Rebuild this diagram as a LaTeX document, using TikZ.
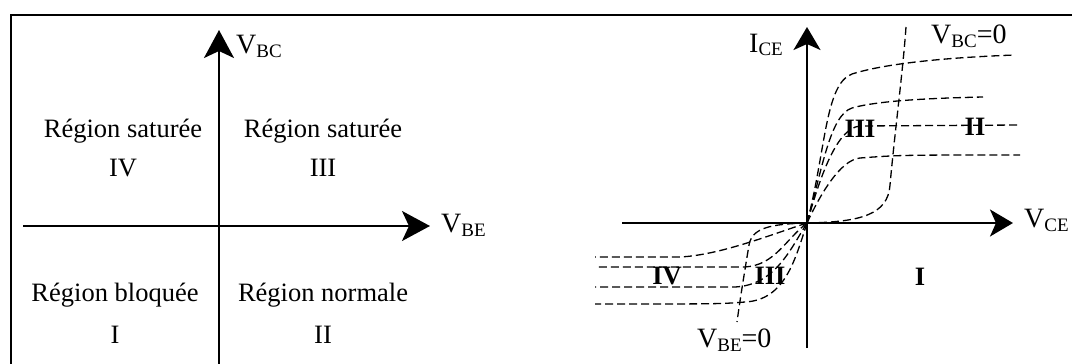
\documentclass[tikz,border=0pt]{standalone}
\usepackage{fontspec}
\setmainfont{Liberation Serif}
\usetikzlibrary{arrows.meta}
\newcommand{\txtsz}{\fontsize{26.5}{28}\selectfont}
\newcommand{\axlab}[2]{{\fontsize{28}{30}\selectfont #1}\raisebox{-4pt}{\fontsize{19}{20}\selectfont #2}}
\tikzset{
  frameline/.style={line width=1.6pt},
  axisL/.style={line width=2.2pt,-{Stealth[length=28pt,width=30pt,inset=7pt]}},
  axisR/.style={line width=2.2pt,-{Stealth[length=23pt,width=27pt,inset=6pt]}},
  curve/.style={line width=1.3pt,dash pattern=on 8pt off 4pt},
  regtext/.style={font=\txtsz,inner sep=0pt,align=center},
  roman/.style={font=\txtsz\bfseries,inner sep=0pt},
  axtext/.style={inner sep=0pt,anchor=base west},
}
\begin{document}
\begin{tikzpicture}[x=1pt,y=-1pt]
\useasboundingbox (0,0) rectangle (1072,364);
% frame
\coordinate (fb) at (11,364);
\coordinate (fc) at (11,15);
\coordinate (fr) at (1072,15);
\draw[frameline] (fb) -- (fc) -- (fr);
% ---------- left diagram ----------
\coordinate (Lys) at (219,364);
\coordinate (Lye) at (219,30);
\coordinate (Lxs) at (23,226);
\coordinate (Lxe) at (430,226);
\draw[axisL] (Lys) -- (Lye);
\draw[axisL] (Lxs) -- (Lxe);
\node[axtext] (vbc) at (236,53) {\axlab{V}{BC}};
\node[axtext] (vbe) at (441,232) {\axlab{V}{BE}};
\node[regtext] (r1) at (123,131) {Région saturée};
\node[regtext] (r1n) at (123,168) {IV};
\node[regtext] (r2) at (323,131) {Région saturée};
\node[regtext] (r2n) at (323,168) {III};
\node[regtext] (r3) at (115,295) {Région bloquée};
\node[regtext] (r3n) at (115,335) {I};
\node[regtext] (r4) at (323,295) {Région normale};
\node[regtext] (r4n) at (323,335) {II};
% ---------- right diagram ----------
\coordinate (O) at (807,223);
\coordinate (Rys) at (807,348);
\coordinate (Rye) at (807,27);
\coordinate (Rxs) at (622,223);
\coordinate (Rxe) at (1013,223);
% curves first quadrant
\draw[curve] (O) .. controls (826,150) and (825,84) .. (852,74) .. controls (890,62) and (960,57) .. (1015,55);
\draw[curve] (O) .. controls (822,170) and (830,115) .. (852,108) .. controls (880,100) and (940,98) .. (983,97);
\draw[curve] (O) .. controls (818,185) and (835,128) .. (860,126) -- (1020,125);
\draw[curve] (O) .. controls (820,195) and (840,160) .. (860,158) .. controls (900,155) .. (1020,155);
\draw[curve] (O) .. controls (860,222) and (888,215) .. (890,185) .. controls (895,130) and (903,70) .. (906,27);
% curves third quadrant
\draw[curve] (O) .. controls (770,235) and (720,255) .. (680,257) -- (595,257);
\draw[curve] (O) .. controls (785,240) and (775,265) .. (745,267) -- (595,267);
\draw[curve] (O) .. controls (790,250) and (775,285) .. (735,287) -- (595,287);
\draw[curve] (O) .. controls (795,260) and (785,300) .. (745,302) .. controls (720,304) .. (595,304);
\draw[curve] (O) .. controls (770,224) and (752,228) .. (749,245) .. controls (744,275) and (740,300) .. (737,322);
% axes
\draw[axisR] (Rys) -- (Rye);
\draw[axisR] (Rxs) -- (Rxe);
\node[axtext] (ice) at (749,52) {\axlab{I}{CE}};
\node[axtext] (vce) at (1024,227) {\axlab{V}{CE}};
\node[axtext] (vbc0) at (931,43) {\axlab{V}{BC}{\fontsize{28}{30}\selectfont =0}};
\node[axtext] (vbe0) at (697,347) {\axlab{V}{BE}{\fontsize{28}{30}\selectfont =0}};
\node[roman] (q3a) at (860,129) {III};
\node[roman] (q2) at (975,127) {II};
\node[roman] (q4) at (667,276) {IV};
\node[roman] (q3b) at (770,276) {III};
\node[roman] (q1) at (920,277) {I};
\end{tikzpicture}
\end{document}
